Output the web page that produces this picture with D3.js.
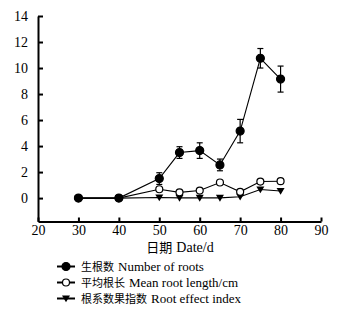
<!DOCTYPE html>
<html>
<head>
<meta charset="utf-8">
<script src="https://cdn.jsdelivr.net/npm/d3@7"></script>
<style>
  body { margin: 0; background: #fff; }
</style>
</head>
<body>
<svg id="drawing_region"></svg>
<script>
const days = [30, 40, 50, 55, 60, 65, 70, 75, 80];
const rootNumber = [0, 0, 1.5, 3.5, 3.65, 2.55, 5.15, 10.75, 9.15];
const rootNumberErr = [0, 0, 0.45, 0.45, 0.6, 0.45, 0.9, 0.75, 1.0];
const rootLength = [0, 0, 0.68, 0.44, 0.58, 1.2, 0.48, 1.27, 1.3];
const rootIndex = [0, 0, 0.05, 0.02, 0.02, 0.02, 0.1, 0.66, 0.55];
const xTicks = [20, 30, 40, 50, 60, 70, 80, 90];
const yTicks = [0, 2, 4, 6, 8, 10, 12, 14];
const legendCn = ['生根数', '平均根长', '根系数果指数'];
const legendEn = ['Number of roots', 'Mean root length/cm', 'Root effect index'];

const SERIF = '"Liberation Serif", "Times New Roman", Times, serif';
const CJK = '"Noto Sans CJK SC", sans-serif';

const width = 353, height = 318;
const svg = d3.select('#drawing_region')
    .attr('width', width)
    .attr('height', height);

const xscale = d3.scaleLinear().domain([20, 90]).range([38, 321]);
const yscale = d3.scaleLinear().domain([-1.8, 14]).range([221.5, 16]);

// axes
const xaxis = d3.axisBottom(xscale).tickValues(xTicks).tickSizeInner(-4).tickSizeOuter(0).tickPadding(4);
const yaxis = d3.axisLeft(yscale).tickValues(yTicks).tickSizeInner(-5).tickSizeOuter(0).tickPadding(10);

const xg = svg.append('g')
    .attr('transform', `translate(0, ${yscale(-1.8)})`)
    .call(xaxis);
const yg = svg.append('g')
    .attr('transform', `translate(${xscale(20)}, 0)`)
    .call(yaxis);
[xg, yg].forEach(g => {
    g.attr('font-family', SERIF).attr('font-size', 14);
    g.select('.domain').attr('stroke', '#000').attr('stroke-width', 2);
    g.selectAll('.tick line').attr('stroke', '#000').attr('stroke-width', 2);
    g.selectAll('.tick text').attr('fill', '#000');
});

// chinese + english label pieces
function twoPart(parent, x, y, cn, en, cnSize, enSize, anchorMiddle) {
    const g = parent.append('g');
    const t1 = g.append('text')
        .attr('x', x).attr('y', y)
        .attr('font-family', CJK).attr('font-size', cnSize)
        .attr('fill', '#000')
        .text(cn);
    const w1 = t1.node().getComputedTextLength();
    const t2 = g.append('text')
        .attr('x', x + w1 + 4).attr('y', y)
        .attr('font-family', SERIF).attr('font-size', enSize)
        .attr('fill', '#000')
        .text(en);
    if (anchorMiddle) {
        const w = w1 + 4 + t2.node().getComputedTextLength();
        g.attr('transform', `translate(${-w / 2}, 0)`);
    }
    return g;
}
twoPart(svg, 180, 252, '日期', 'Date/d', 13, 14, true);

// series
const series = [
    { values: rootNumber, err: rootNumberErr, shape: 'fill' },
    { values: rootLength, err: null, shape: 'open' },
    { values: rootIndex, err: null, shape: 'tri' }
];
const line = d3.line().x(d => xscale(d[0])).y(d => yscale(d[1]));
const triangle = r => `M${-r},${-r * 0.75}L${r},${-r * 0.75}L0,${r * 0.95}Z`;

function drawMarker(g, shape, x, y) {
    if (shape === 'tri') {
        g.append('path')
            .attr('d', triangle(4))
            .attr('transform', `translate(${x}, ${y})`)
            .attr('fill', '#000');
    } else {
        g.append('circle')
            .attr('cx', x).attr('cy', y)
            .attr('r', shape === 'open' ? 3.5 : 4)
            .attr('fill', shape === 'open' ? '#fff' : '#000')
            .attr('stroke', '#000')
            .attr('stroke-width', 1.2);
    }
}

// draw in reverse so filled circles end on top
series.slice().reverse().forEach(s => {
    const pts = days.map((d, i) => [d, s.values[i]]);
    svg.append('path')
        .datum(pts)
        .attr('d', line)
        .attr('fill', 'none')
        .attr('stroke', '#000')
        .attr('stroke-width', 1.1);
    if (s.err) {
        const eg = svg.append('g');
        days.forEach((d, i) => {
            if (!s.err[i]) return;
            const x = xscale(d);
            const y1 = yscale(s.values[i] + s.err[i]);
            const y2 = yscale(s.values[i] - s.err[i]);
            eg.append('line').attr('x1', x).attr('x2', x).attr('y1', y1).attr('y2', y2)
                .attr('stroke', '#000').attr('stroke-width', 1.2);
            [y1, y2].forEach(y => {
                eg.append('line').attr('x1', x - 3).attr('x2', x + 3).attr('y1', y).attr('y2', y)
                    .attr('stroke', '#000').attr('stroke-width', 1.2);
            });
        });
    }
    const mg = svg.append('g');
    days.forEach((d, i) => drawMarker(mg, s.shape, xscale(d), yscale(s.values[i])));
});

// legend
const legend = svg.append('g');
series.forEach((s, i) => {
    const y = 266.5 + i * 16;
    legend.append('line')
        .attr('x1', 57).attr('x2', 75).attr('y1', y).attr('y2', y)
        .attr('stroke', '#000').attr('stroke-width', 2);
    drawMarker(legend, s.shape, 66, y);
    twoPart(legend, 81, y + 4.5, legendCn[i], legendEn[i], 11, 13, false);
});
</script>
</body>
</html>
